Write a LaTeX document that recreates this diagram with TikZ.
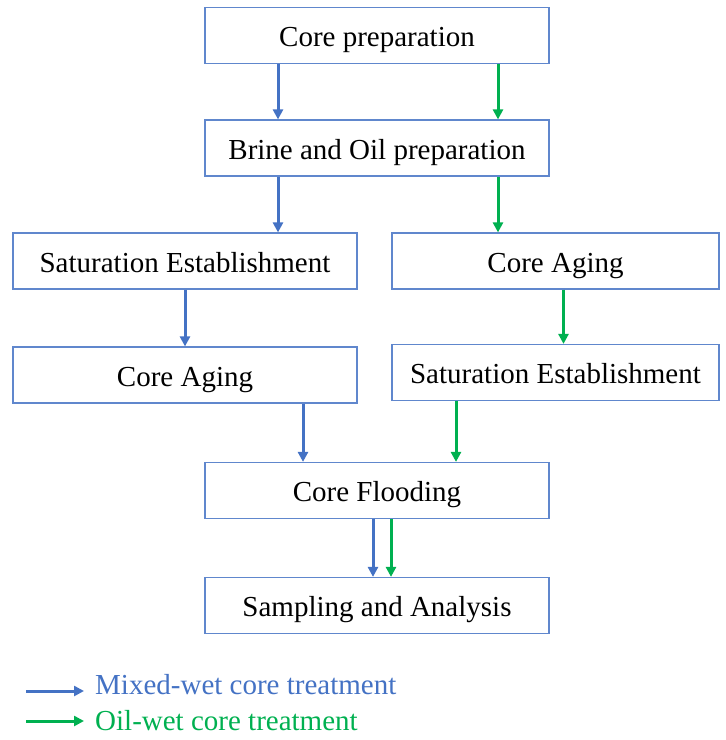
\documentclass[tikz,border=0pt]{standalone}
\usepackage{fontspec}
\setmainfont{Liberation Serif}
\usetikzlibrary{arrows.meta, positioning, calc}
\definecolor{mixblue}{HTML}{4472C4}
\definecolor{oilgreen}{HTML}{00B050}

\begin{document}
\begin{tikzpicture}[x=1pt, y=-1pt,
    stagebox/.style={draw=mixblue!85, line width=1.2pt, minimum height=56pt, minimum width=344pt, inner sep=0pt, text height=24pt, text depth=2pt, font=\fontsize{29}{34}\selectfont},
    mixarrow/.style={draw=mixblue, line width=3pt, -{Triangle[length=10pt,width=10pt]}},
    oilarrow/.style={draw=oilgreen, line width=3pt, -{Triangle[length=10pt,width=10pt]}}]
  \useasboundingbox (0,0) rectangle (726,740);

  % stages
  \node[stagebox] (prep) at (377,35.5) {Core preparation};
  \node[stagebox] (brine) at (377,148) {Brine and Oil preparation};
  \node[stagebox] (satL) at (185,261) {Saturation Establishment};
  \node[stagebox, minimum width=327pt] (ageR) at (555.5,261) {Core Aging};
  \node[stagebox] (ageL) at (185,375) {Core Aging};
  \node[stagebox, minimum width=327pt] (satR) at (555.5,372.5) {Saturation Establishment};
  \node[stagebox] (flood) at (377,490.5) {Core Flooding};
  \node[stagebox] (samp) at (377,605.5) {Sampling and Analysis};

  % mixed-wet path
  \draw[mixarrow] ([xshift=-99pt]prep.south) -- ([xshift=-99pt]brine.north);
  \draw[mixarrow] ([xshift=-99pt]brine.south) -- ([xshift=-99pt]brine.south |- satL.north);
  \draw[mixarrow] (satL.south) -- (ageL.north);
  \draw[mixarrow] ([xshift=118pt]ageL.south) -- ([xshift=118pt]ageL.south |- flood.north);
  \draw[mixarrow] ([xshift=-4pt]flood.south) -- ([xshift=-4pt]samp.north);

  % oil-wet path
  \draw[oilarrow] ([xshift=121pt]prep.south) -- ([xshift=121pt]brine.north);
  \draw[oilarrow] ([xshift=121pt]brine.south) -- ([xshift=121pt]brine.south |- ageR.north);
  \draw[oilarrow] ([xshift=8pt]ageR.south) -- ([xshift=8pt]satR.north);
  \draw[oilarrow] ([xshift=-99.5pt]satR.south) -- ([xshift=-99.5pt]satR.south |- flood.north);
  \draw[oilarrow] ([xshift=14pt]flood.south) -- ([xshift=14pt]samp.north);

  % legend
  \coordinate (mixtail) at (26,691);
  \coordinate (mixhead) at (84,691);
  \coordinate (oiltail) at (26,721);
  \coordinate (oilhead) at (84,721);
  \draw[mixarrow] (mixtail) -- (mixhead);
  \draw[oilarrow] (oiltail) -- (oilhead);
  \node[anchor=west, text=mixblue, inner sep=0pt, font=\fontsize{29}{34}\selectfont] (mixlabel) at (95,685) {Mixed-wet core treatment};
  \node[anchor=west, text=oilgreen, inner sep=0pt, font=\fontsize{29}{34}\selectfont] (oillabel) at (95,721) {Oil-wet core treatment};
\end{tikzpicture}
\end{document}
